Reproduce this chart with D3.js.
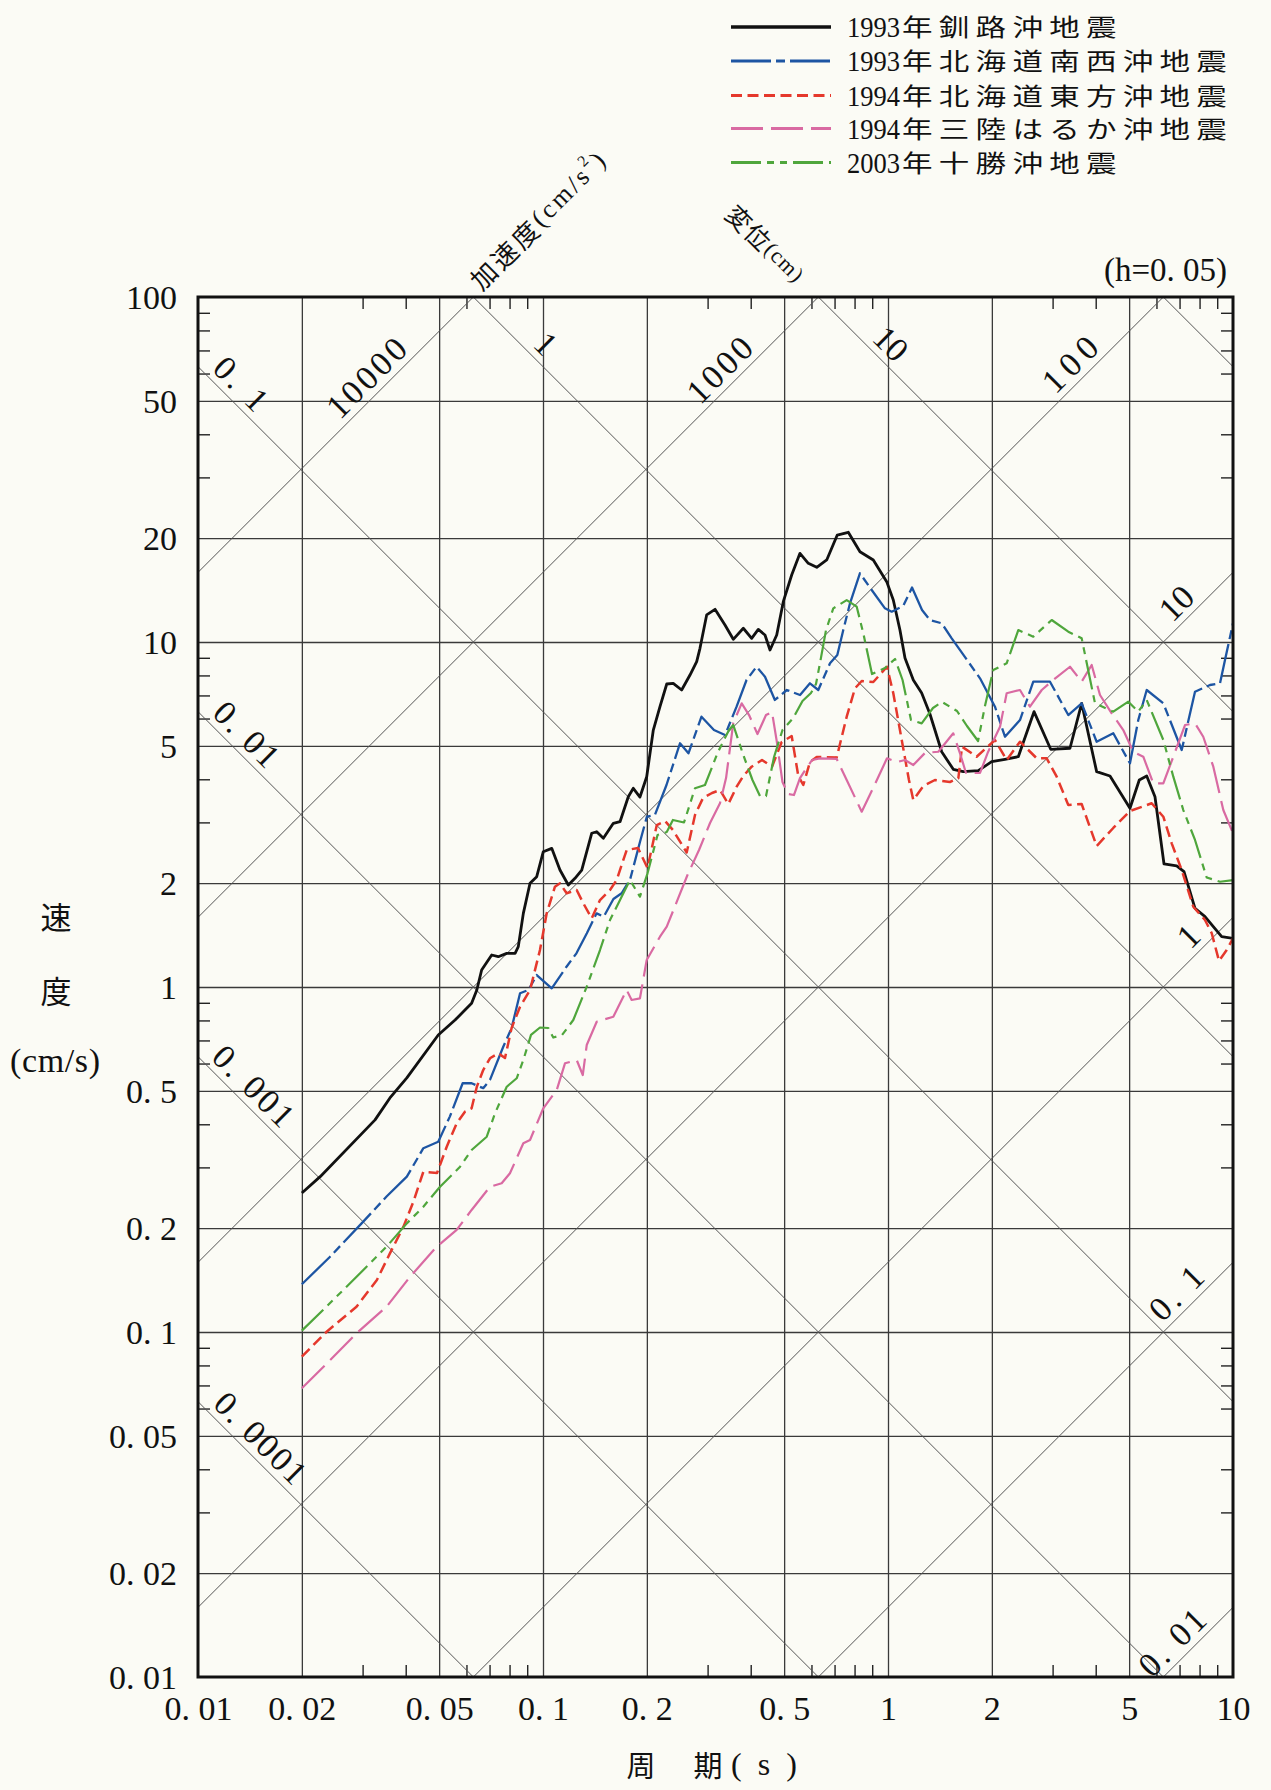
<!DOCTYPE html>
<html>
<head>
<meta charset="utf-8">
<script src="https://cdn.jsdelivr.net/npm/d3@7"></script>
<style>
  html, body { margin: 0; padding: 0; background: #fbfbf5; }
  svg { display: block; }
</style>
</head>
<body>
<svg id="chart" width="1271" height="1790"></svg>
<script>
// ---- axis ticks and labels ----
const periodTicks = [0.01, 0.02, 0.05, 0.1, 0.2, 0.5, 1, 2, 5, 10];
const periodTickLabels = ["0. 01", "0. 02", "0. 05", "0. 1", "0. 2", "0. 5", "1", "2", "5", "10"];
const velocityTicks = [0.01, 0.02, 0.05, 0.1, 0.2, 0.5, 1, 2, 5, 10, 20, 50, 100];
const velocityTickLabels = ["0. 01", "0. 02", "0. 05", "0. 1", "0. 2", "0. 5", "1", "2", "5", "10", "20", "50", "100"];
const minorMultipliers = [3, 4, 6, 7, 8, 9];

// ---- tripartite guide lines: displacement (cm) and acceleration (cm/s^2) ----
const displacementLines = [0.0001, 0.001, 0.01, 0.1, 1, 10, 100];
const accelerationLines = [0.01, 0.1, 1, 10, 100, 1000, 10000];
const guideLabels = [
  { kind: "D", value: 0.1,    text: "0. 1",    at: 0.01333, len: 62 },
  { kind: "A", value: 10000,  text: "10000",   at: 0.0308,  len: 98 },
  { kind: "D", value: 1,      text: "1",       at: 0.102,   len: 0 },
  { kind: "A", value: 1000,   text: "1000",    at: 0.325,   len: 78 },
  { kind: "D", value: 10,     text: "10",      at: 1.02,    len: 0 },
  { kind: "A", value: 100,    text: "100",     at: 3.37,    len: 64 },
  { kind: "A", value: 10,     text: "10",      at: 6.85,    len: 0 },
  { kind: "A", value: 1,      text: "1",       at: 7.42,    len: 0 },
  { kind: "A", value: 0.1,    text: "0. 1",    at: 6.85,    len: 62 },
  { kind: "A", value: 0.01,   text: "0. 01",   at: 6.66,    len: 80 },
  { kind: "D", value: 0.01,   text: "0. 01",   at: 0.01384, len: 78 },
  { kind: "D", value: 0.001,  text: "0. 001",  at: 0.01448, len: 100 },
  { kind: "D", value: 0.0001, text: "0. 0001", at: 0.01517, len: 115 }
];

// ---- series: [period (s), pseudo velocity response (cm/s)], h = 0.05 ----
const eventNames = ["1993年釧路沖地震", "1993年北海道南西沖地震", "1994年北海道東方沖地震", "1994年三陸はるか沖地震", "2003年十勝沖地震"];
const eventYears = ["1993", "1993", "1994", "1994", "2003"];

const kushiroOki1993 = [[0.02,0.253],[0.0226,0.282],[0.0326,0.412],[0.036,0.477],[0.0403,0.545],[0.0497,0.726],[0.0556,0.802],[0.0621,0.897],[0.0643,0.98],[0.0664,1.12],[0.071,1.238],[0.0742,1.224],[0.0785,1.252],[0.083,1.252],[0.0848,1.309],[0.0877,1.635],[0.0917,1.998],[0.0959,2.088],[0.1002,2.467],[0.106,2.523],[0.112,2.183],[0.1184,1.975],[0.1238,2.066],[0.1295,2.183],[0.1384,2.79],[0.1431,2.819],[0.1496,2.698],[0.1599,2.982],[0.1672,3.014],[0.1767,3.561],[0.1827,3.766],[0.191,3.553],[0.1998,4.07],[0.2088,5.557],[0.2183,6.494],[0.2284,7.555],[0.2385,7.59],[0.2523,7.259],[0.2667,8.022],[0.2789,8.769],[0.2851,9.588],[0.2981,11.98],[0.3152,12.44],[0.3369,11.2],[0.3561,10.18],[0.3807,10.96],[0.4025,10.25],[0.4207,10.88],[0.44,10.48],[0.455,9.48],[0.4758,10.48],[0.4972,13.09],[0.5258,15.64],[0.5557,18.07],[0.5875,16.91],[0.6214,16.46],[0.6643,17.29],[0.7128,20.42],[0.7672,20.8],[0.8294,18.27],[0.9066,17.29],[0.9913,14.96],[1.036,13.23],[1.083,10.83],[1.12,8.987],[1.184,7.76],[1.252,7.116],[1.323,6.183],[1.431,4.808],[1.546,4.276],[1.653,4.209],[1.827,4.236],[1.998,4.498],[2.183,4.571],[2.386,4.65],[2.65,6.281],[2.962,4.887],[3.369,4.92],[3.642,6.642],[4.025,4.209],[4.4,4.089],[5.028,3.296],[5.35,3.981],[5.622,4.089],[5.941,3.561],[6.31,2.273],[6.867,2.243],[7.211,2.159],[7.76,1.691],[8.295,1.599],[8.769,1.496],[9.273,1.399],[10,1.384]];

const hokkaidoNanseiOki1993 = [[0.02,0.1375],[0.0241,0.165],[0.0298,0.2065],[0.0352,0.247],[0.0403,0.282],[0.045,0.341],[0.0497,0.356],[0.0537,0.421],[0.0585,0.526],[0.0621,0.526],[0.0671,0.509],[0.0702,0.538],[0.0767,0.671],[0.0811,0.761],[0.0858,0.959],[0.0907,0.98],[0.0959,1.083],[0.106,0.991],[0.117,1.145],[0.125,1.252],[0.134,1.431],[0.143,1.635],[0.15,1.599],[0.16,1.799],[0.169,1.869],[0.179,2.056],[0.191,2.632],[0.2,3.116],[0.211,3.152],[0.228,3.85],[0.2495,5.087],[0.264,4.758],[0.288,6.074],[0.313,5.557],[0.337,5.375],[0.364,6.494],[0.389,7.76],[0.416,8.478],[0.44,7.932],[0.47,6.791],[0.509,7.259],[0.556,7.021],[0.594,7.59],[0.628,7.259],[0.679,8.677],[0.713,9.17],[0.742,10.83],[0.776,12.95],[0.829,15.82],[0.897,14.15],[0.98,12.52],[1.025,12.24],[1.107,12.72],[1.174,14.39],[1.255,12.38],[1.323,11.58],[1.431,11.33],[1.53,10.25],[1.848,7.848],[2.042,6.494],[2.183,5.314],[2.413,5.941],[2.637,7.672],[2.948,7.672],[3.331,6.141],[3.642,6.642],[4.025,5.14],[4.498,5.437],[5.028,4.45],[5.314,5.941],[5.622,7.259],[6.281,6.642],[7.101,4.864],[7.76,7.176],[8.577,7.505],[9.17,7.59],[9.48,8.867],[10,11.33]];

const hokkaidoTohoOki1994 = [[0.02,0.0848],[0.0236,0.1002],[0.0288,0.1184],[0.033,0.1415],[0.036,0.169],[0.0394,0.202],[0.0421,0.2385],[0.045,0.2914],[0.0493,0.2889],[0.0526,0.3444],[0.0562,0.4025],[0.0594,0.4351],[0.0621,0.4451],[0.0643,0.514],[0.0671,0.5746],[0.0702,0.6214],[0.0742,0.6425],[0.0776,0.6227],[0.0811,0.7606],[0.0858,0.8768],[0.0917,0.98],[0.098,1.28],[0.1025,1.635],[0.1083,1.953],[0.112,1.998],[0.1171,1.869],[0.1252,1.91],[0.1309,1.748],[0.1384,1.581],[0.1463,1.787],[0.1564,1.91],[0.1635,2.042],[0.1748,2.495],[0.1885,2.528],[0.2009,2.212],[0.2137,2.948],[0.2258,3.029],[0.238,2.852],[0.2609,2.454],[0.2758,3.152],[0.2909,3.53],[0.309,3.65],[0.3258,3.724],[0.3444,3.391],[0.3642,3.807],[0.3807,4.089],[0.4025,4.351],[0.4313,4.55],[0.4611,4.351],[0.4919,5.13],[0.5258,5.339],[0.5495,4.089],[0.5682,3.85],[0.5941,4.489],[0.6214,4.642],[0.7101,4.63],[0.7591,6.074],[0.8022,7.341],[0.8391,7.709],[0.9066,7.657],[0.9933,8.478],[1.036,7.101],[1.096,5.199],[1.15,3.981],[1.184,3.483],[1.266,3.824],[1.368,3.981],[1.512,3.928],[1.599,4.025],[1.639,4.972],[1.807,4.65],[2.042,5.199],[2.208,4.55],[2.413,5.14],[2.698,4.601],[2.884,4.601],[3.083,4.07],[3.331,3.369],[3.642,3.391],[4.025,2.562],[4.498,2.89],[5.028,3.236],[5.811,3.408],[6.281,3.116],[6.642,2.609],[7.101,2.183],[7.672,1.709],[8.295,1.564],[8.677,1.431],[9.109,1.19],[9.588,1.28],[10,1.384]];

const sanrikuHarukaOki1994 = [[0.02,0.0687],[0.0239,0.082],[0.0288,0.0991],[0.0352,0.1184],[0.0412,0.1446],[0.0492,0.1767],[0.0562,0.1976],[0.0621,0.2258],[0.0702,0.2637],[0.0759,0.2698],[0.0802,0.2884],[0.0877,0.3524],[0.0917,0.3601],[0.1002,0.4451],[0.1096,0.5028],[0.1158,0.6009],[0.1252,0.6144],[0.1304,0.5557],[0.1339,0.6791],[0.1431,0.7932],[0.1599,0.8201],[0.1748,0.98],[0.1807,0.917],[0.191,0.9273],[0.1998,1.198],[0.2183,1.399],[0.2284,1.496],[0.2441,1.764],[0.2623,2.112],[0.2833,2.495],[0.3049,2.988],[0.3258,3.408],[0.3393,4.034],[0.3561,5.824],[0.3766,6.642],[0.3956,6.141],[0.4185,5.411],[0.443,6.141],[0.4611,6.267],[0.4758,5.164],[0.4945,3.928],[0.5129,3.626],[0.5338,3.601],[0.5557,4.034],[0.6021,4.55],[0.6353,4.601],[0.7101,4.581],[0.7591,3.981],[0.8391,3.222],[0.917,3.876],[0.9933,4.601],[1.065,4.489],[1.12,4.55],[1.184,4.4],[1.28,4.768],[1.399,4.808],[1.546,5.437],[1.617,4.758],[1.683,4.172],[1.848,4.172],[1.95,4.8],[2.112,5.682],[2.208,7.101],[2.413,7.259],[2.579,6.494],[2.79,7.259],[3.014,7.76],[3.369,8.478],[3.642,7.672],[3.894,8.577],[4.116,7.021],[4.45,6.212],[4.808,5.557],[5.14,4.808],[5.495,4.65],[5.875,3.894],[6.281,3.894],[6.714,4.65],[7.259,5.746],[7.76,5.811],[8.2,5.314],[8.769,4.351],[9.374,3.258],[10,2.79]];

const tokachiOki2003 = [[0.02,0.1009],[0.0241,0.1211],[0.0295,0.148],[0.0352,0.1767],[0.0403,0.2065],[0.045,0.2308],[0.0503,0.2637],[0.0575,0.3013],[0.0621,0.3369],[0.0687,0.3682],[0.0726,0.4304],[0.0785,0.514],[0.0839,0.5438],[0.0877,0.6144],[0.0923,0.7263],[0.098,0.7631],[0.1036,0.7606],[0.1071,0.7138],[0.1136,0.7263],[0.1224,0.8022],[0.1339,1.002],[0.1463,1.28],[0.1564,1.564],[0.1672,1.787],[0.1787,2.042],[0.191,1.827],[0.2009,2.136],[0.2148,2.758],[0.2284,2.813],[0.238,3.049],[0.2563,2.998],[0.2758,3.766],[0.2948,3.85],[0.3215,4.8],[0.346,5.557],[0.3561,5.746],[0.3807,4.703],[0.4047,3.981],[0.4256,3.577],[0.443,3.577],[0.4674,4.642],[0.4945,5.557],[0.5314,6.021],[0.5652,6.745],[0.5981,7.116],[0.6184,7.555],[0.6353,8.693],[0.6612,10.83],[0.694,12.52],[0.7591,13.23],[0.8115,12.66],[0.848,10.6],[0.8987,8.075],[0.98,8.405],[1.048,8.929],[1.102,7.76],[1.166,5.941],[1.252,5.811],[1.35,6.437],[1.434,6.7],[1.585,6.31],[1.694,5.708],[1.824,5.164],[1.91,6.524],[2.019,8.295],[2.208,8.677],[2.386,10.83],[2.637,10.36],[2.982,11.58],[3.331,10.71],[3.642,10.25],[3.981,6.642],[4.498,6.281],[4.972,6.714],[5.314,6.281],[5.622,6.791],[6.281,5.199],[6.714,4.07],[7.176,3.258],[7.76,2.668],[8.389,2.077],[9.17,2.019],[10,2.042]];

const seriesValues = [kushiroOki1993, hokkaidoNanseiOki1993, hokkaidoTohoOki1994, sanrikuHarukaOki1994, tokachiOki2003];
const seriesColors = ["#111111", "#1d55a3", "#e5382c", "#d96aa2", "#4fa63c"];
const seriesDashes = [null, "40,5,9,5", "11,5.5", "32,8", "30,6,7,6,7,6"];
const seriesWidths = [2.8, 2.3, 2.5, 2.2, 2.2];

// ---- layout ----
const W = 1271, H = 1790;
const plot = { left: 198, right: 1233, top: 297, bottom: 1677 };
const numFont = "'Liberation Serif', 'DejaVu Serif', serif";
const cjkFont = "'Noto Sans CJK JP', 'Noto Sans CJK SC', sans-serif";

const x = d3.scaleLog().domain([0.01, 10]).range([plot.left, plot.right]);
const y = d3.scaleLog().domain([0.01, 100]).range([plot.bottom, plot.top]);

const svg = d3.select("#chart");
svg.append("rect").attr("width", W).attr("height", H).attr("fill", "#fbfbf5");

svg.append("defs").append("clipPath").attr("id", "plotClip")
  .append("rect")
  .attr("x", plot.left).attr("y", plot.top)
  .attr("width", plot.right - plot.left).attr("height", plot.bottom - plot.top);

const pw = plot.right - plot.left, ph = plot.bottom - plot.top;
const minorX = [0.01, 0.1, 1].flatMap(d => minorMultipliers.map(m => +(d * m).toPrecision(3)));
const minorY = [0.01, 0.1, 1, 10].flatMap(d => minorMultipliers.map(m => +(d * m).toPrecision(3)));
const innerX = periodTicks.filter(t => t > 0.01 && t < 10);
const innerY = velocityTicks.filter(v => v > 0.01 && v < 100);

function styleAxis(g, stroke, width) {
  g.select(".domain").remove();
  g.selectAll(".tick line").attr("stroke", stroke).attr("stroke-width", width);
  g.selectAll(".tick text").remove();
}

// major grid
svg.append("g").attr("transform", `translate(0,${plot.bottom})`)
  .call(d3.axisBottom(x).tickValues(innerX).tickSize(-ph).tickFormat(""))
  .call(g => styleAxis(g, "#3a3a3a", 1.3));
svg.append("g").attr("transform", `translate(${plot.left},0)`)
  .call(d3.axisLeft(y).tickValues(innerY).tickSize(-pw).tickFormat(""))
  .call(g => styleAxis(g, "#3a3a3a", 1.3));

// minor ticks on all four sides, pointing inward
svg.append("g").attr("transform", `translate(0,${plot.bottom})`)
  .call(d3.axisBottom(x).tickValues(minorX).tickSize(-12).tickFormat(""))
  .call(g => styleAxis(g, "#222", 1.4));
svg.append("g").attr("transform", `translate(0,${plot.top})`)
  .call(d3.axisTop(x).tickValues(minorX).tickSize(-12).tickFormat(""))
  .call(g => styleAxis(g, "#222", 1.4));
svg.append("g").attr("transform", `translate(${plot.left},0)`)
  .call(d3.axisLeft(y).tickValues(minorY).tickSize(-12).tickFormat(""))
  .call(g => styleAxis(g, "#222", 1.4));
svg.append("g").attr("transform", `translate(${plot.right},0)`)
  .call(d3.axisRight(y).tickValues(minorY).tickSize(-12).tickFormat(""))
  .call(g => styleAxis(g, "#222", 1.4));

// diagonal guide lines
const twoPi = 2 * Math.PI;
const svFromD = (D, T) => twoPi * D / T;
const svFromA = (A, T) => A * T / twoPi;
const guideEnds = [0.01, 10];
const guideLine = d3.line().x(d => x(d[0])).y(d => y(d[1]));
const guides = svg.append("g").attr("clip-path", "url(#plotClip)");
displacementLines.forEach(D => {
  guides.append("path").datum(guideEnds.map(T => [T, svFromD(D, T)]))
    .attr("d", guideLine).attr("fill", "none").attr("stroke", "#555").attr("stroke-width", 1);
});
accelerationLines.forEach(A => {
  guides.append("path").datum(guideEnds.map(T => [T, svFromA(A, T)]))
    .attr("d", guideLine).attr("fill", "none").attr("stroke", "#555").attr("stroke-width", 1);
});

// guide labels
const labelOffset = 26;
guideLabels.forEach(l => {
  const sv = l.kind === "D" ? svFromD(l.value, l.at) : svFromA(l.value, l.at);
  const px = x(l.at), py = y(sv) - labelOffset;
  const angle = l.kind === "D" ? 45 : -45;
  const t = svg.append("text")
    .attr("transform", `translate(${px},${py}) rotate(${angle})`)
    .attr("text-anchor", "middle").attr("dominant-baseline", "central")
    .attr("font-family", numFont).attr("font-size", 34).attr("fill", "#111")
    .text(l.text);
  if (l.len) t.attr("textLength", l.len).attr("lengthAdjust", "spacing");
});

// series
const line = d3.line().x(d => x(d[0])).y(d => y(d[1]));
const seriesG = svg.append("g").attr("clip-path", "url(#plotClip)");
seriesValues.forEach((vals, i) => {
  seriesG.append("path").datum(vals)
    .attr("d", line)
    .attr("fill", "none")
    .attr("stroke", seriesColors[i])
    .attr("stroke-width", seriesWidths[i])
    .attr("stroke-linejoin", "round")
    .attr("stroke-dasharray", seriesDashes[i]);
});

// frame
svg.append("rect")
  .attr("x", plot.left).attr("y", plot.top).attr("width", pw).attr("height", ph)
  .attr("fill", "none").attr("stroke", "#111").attr("stroke-width", 3);

// tick labels
svg.append("g").attr("transform", `translate(0,${plot.bottom})`)
  .call(d3.axisBottom(x).tickValues(periodTicks).tickSize(0).tickFormat((d, i) => periodTickLabels[i]))
  .call(g => {
    g.select(".domain").remove();
    g.selectAll(".tick text")
      .attr("y", 31).attr("dy", "0.35em")
      .attr("font-family", numFont).attr("font-size", 34).attr("fill", "#111");
  });
svg.append("g").attr("transform", `translate(${plot.left},0)`)
  .call(d3.axisLeft(y).tickValues(velocityTicks).tickSize(0).tickFormat((d, i) => velocityTickLabels[i]))
  .call(g => {
    g.select(".domain").remove();
    g.selectAll(".tick text")
      .attr("x", -21).attr("dy", "0.34em")
      .attr("font-family", numFont).attr("font-size", 34).attr("fill", "#111");
  });

// axis titles
const yTitle = svg.append("g").attr("fill", "#111");
yTitle.append("text").attr("x", 56).attr("y", 915).attr("text-anchor", "middle")
  .attr("dominant-baseline", "central").attr("font-family", cjkFont).attr("font-size", 31).text("速");
yTitle.append("text").attr("x", 56).attr("y", 989).attr("text-anchor", "middle")
  .attr("dominant-baseline", "central").attr("font-family", cjkFont).attr("font-size", 31).text("度");
yTitle.append("text").attr("x", 55).attr("y", 1060).attr("text-anchor", "middle")
  .attr("dominant-baseline", "central").attr("font-family", numFont).attr("font-size", 34)
  .attr("textLength", 90).attr("lengthAdjust", "spacing").text("(cm/s)");

const xTitle = svg.append("g").attr("fill", "#111");
xTitle.append("text").attr("x", 641).attr("y", 1764).attr("text-anchor", "middle")
  .attr("dominant-baseline", "central").attr("font-family", cjkFont).attr("font-size", 29).text("周");
xTitle.append("text").attr("x", 708).attr("y", 1764).attr("text-anchor", "middle")
  .attr("dominant-baseline", "central").attr("font-family", cjkFont).attr("font-size", 29).text("期");
xTitle.append("text").attr("x", 764).attr("y", 1764).attr("text-anchor", "middle")
  .attr("dominant-baseline", "central").attr("font-family", numFont).attr("font-size", 32)
  .attr("textLength", 66).attr("lengthAdjust", "spacing").text("(s)");

// damping note
svg.append("text").attr("x", 1227).attr("y", 270).attr("text-anchor", "end")
  .attr("dominant-baseline", "central").attr("font-family", numFont).attr("font-size", 33)
  .attr("fill", "#111").text("(h=0. 05)");

// diagonal axis names
const accTitle = svg.append("text")
  .attr("transform", "translate(537,220) rotate(-45)")
  .attr("text-anchor", "middle").attr("dominant-baseline", "central")
  .attr("fill", "#111").attr("font-size", 26)
  .attr("textLength", 180).attr("lengthAdjust", "spacing");
accTitle.append("tspan").attr("font-family", cjkFont).text("加速度");
accTitle.append("tspan").attr("font-family", numFont).text("(cm/s");
accTitle.append("tspan").attr("font-family", numFont).attr("font-size", 16).attr("dy", -10).text("2");
accTitle.append("tspan").attr("font-family", numFont).attr("dy", 10).text(")");

const dispTitle = svg.append("text")
  .attr("transform", "translate(766,243) rotate(45)")
  .attr("text-anchor", "middle").attr("dominant-baseline", "central")
  .attr("fill", "#111").attr("font-size", 25)
  .attr("textLength", 98).attr("lengthAdjust", "spacing");
dispTitle.append("tspan").attr("font-family", cjkFont).text("変位");
dispTitle.append("tspan").attr("font-family", numFont).attr("font-size", 22).text("(cm)");

// legend: line sample, year in serif digits, event name in wide CJK lettering
const legendRows = [27, 61, 95.5, 128.5, 162.5];
const legend = svg.append("g");
const cjkSize = 23.5, cjkStretch = 1.3, cjkPitch = 36.8;
eventNames.forEach((name, i) => {
  const ry = legendRows[i];
  legend.append("line")
    .attr("x1", 731).attr("x2", 831).attr("y1", ry).attr("y2", ry)
    .attr("stroke", seriesColors[i]).attr("stroke-width", seriesWidths[i] + 0.6)
    .attr("stroke-dasharray", seriesDashes[i]);
  const year = eventYears[i];
  legend.append("text")
    .attr("x", 847).attr("y", ry + 10)
    .attr("fill", "#111").attr("font-family", numFont).attr("font-size", 30)
    .attr("textLength", 53).attr("lengthAdjust", "spacingAndGlyphs")
    .text(year);
  legend.append("text")
    .attr("transform", `translate(902,${ry + 9}) scale(${cjkStretch},1)`)
    .attr("fill", "#111").attr("font-family", cjkFont).attr("font-size", cjkSize)
    .attr("letter-spacing", cjkPitch / cjkStretch - cjkSize)
    .text(name.slice(year.length));
});
</script>
</body>
</html>
